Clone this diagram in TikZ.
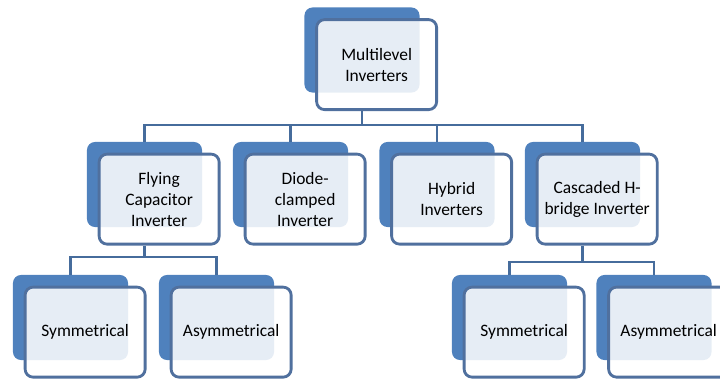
\documentclass[tikz,border=0pt]{standalone}
\usepackage{fontspec}
\setmainfont{Carlito}
\usetikzlibrary{positioning}
\definecolor{mlback}{RGB}{79,129,189}
\definecolor{mlborder}{RGB}{80,112,158}
\definecolor{mlline}{RGB}{70,108,156}

\begin{document}
\begin{tikzpicture}[x=0.025cm,y=-0.025cm,
  backbox/.style={fill=mlback,rounded corners=0.2cm,
                  minimum width=2.875cm,minimum height=2.125cm,inner sep=0pt},
  frontbox/.style={draw=mlborder,line width=2pt,fill=white,fill opacity=0.86,
                   text opacity=1,rounded corners=0.2cm,
                   minimum width=3.0cm,minimum height=2.25cm,inner sep=2pt,
                   align=center,font=\fontsize{12.4}{15}\selectfont},
  conn/.style={draw=mlline,line width=2.1pt}
]
  \clip (0,0) rectangle (720,379);
  % back plates
  \node[backbox] (btop) at (362,50) {};
  \node[backbox] (bflying) at (144.5,184.5) {};
  \node[backbox] (bdiode) at (290.5,184.5) {};
  \node[backbox] (bhybrid) at (437,184.5) {};
  \node[backbox] (bcascaded) at (582.5,184.5) {};
  \node[backbox] (bsymL) at (70.5,317.5) {};
  \node[backbox] (basymL) at (216.5,317.5) {};
  \node[backbox] (bsymR) at (509.5,317.5) {};
  \node[backbox] (basymR) at (654,317.5) {};
  % front boxes with the text
  \node[frontbox,below right=0.275cm and 0.275cm of btop.north west] (top) {Multilevel\\Inverters};
  \node[frontbox,below right=0.275cm and 0.275cm of bflying.north west] (flying) {Flying\\Capacitor\\Inverter};
  \node[frontbox,below right=0.275cm and 0.275cm of bdiode.north west] (diode) {Diode-\\clamped\\Inverter};
  \node[frontbox,below right=0.275cm and 0.275cm of bhybrid.north west] (hybrid) {Hybrid\\Inverters};
  \node[frontbox,below right=0.275cm and 0.275cm of bcascaded.north west] (cascaded) {Cascaded H-\\bridge Inverter};
  \node[frontbox,below right=0.275cm and 0.275cm of bsymL.north west] (symL) {Symmetrical};
  \node[frontbox,below right=0.275cm and 0.275cm of basymL.north west] (asymL) {Asymmetrical};
  \node[frontbox,below right=0.275cm and 0.275cm of bsymR.north west] (symR) {Symmetrical};
  \node[frontbox,below right=0.275cm and 0.275cm of basymR.north west] (asymR) {Asymmetrical};
  % connectors
  \coordinate (bar1) at (362,125);
  \coordinate (bar2) at (144.5,257);
  \coordinate (bar3) at (582.5,262);
  \draw[conn] (top.south -| btop.south) -- (bar1);
  \draw[conn] (bflying.north) |- (bar1);
  \draw[conn] (bdiode.north) |- (bar1);
  \draw[conn] (bhybrid.north) |- (bar1);
  \draw[conn] (bcascaded.north) |- (bar1);
  \draw[conn] (flying.south -| bflying.south) -- (bar2);
  \draw[conn] (bsymL.north) |- (bar2);
  \draw[conn] (basymL.north) |- (bar2);
  \draw[conn] (cascaded.south -| bcascaded.south) -- (bar3);
  \draw[conn] (bsymR.north) |- (bar3);
  \draw[conn] (basymR.north) |- (bar3);
\end{tikzpicture}
\end{document}
